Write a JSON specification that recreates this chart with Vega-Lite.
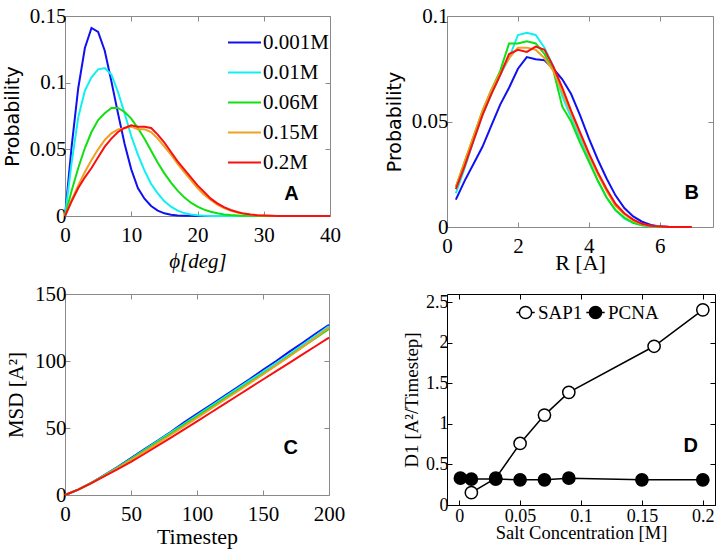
{
"$schema": "https://vega.github.io/schema/vega-lite/v6.json",
"autosize": "none",
"padding": {"left": 65, "top": 16, "right": 653, "bottom": 539},
"background": "white",
"columns": 2,
"spacing": {"row": 67, "column": 117},
"bounds": "flush",
"align": "each",
"datasets": {
"phi": [
{"c":"0.001M","x":0,"y":0},{"c":"0.001M","x":1,"y":0.052},{"c":"0.001M","x":2,"y":0.096},{"c":"0.001M","x":3,"y":0.126},{"c":"0.001M","x":4,"y":0.141},{"c":"0.001M","x":5,"y":0.138},{"c":"0.001M","x":6,"y":0.124},{"c":"0.001M","x":7,"y":0.101},{"c":"0.001M","x":8,"y":0.077},{"c":"0.001M","x":9,"y":0.054},{"c":"0.001M","x":10,"y":0.035},{"c":"0.001M","x":11,"y":0.021},{"c":"0.001M","x":12,"y":0.013},{"c":"0.001M","x":13,"y":0.0075},{"c":"0.001M","x":14,"y":0.004},{"c":"0.001M","x":15,"y":0.002},{"c":"0.001M","x":16,"y":0.0009},{"c":"0.001M","x":17,"y":0.0004},{"c":"0.001M","x":18,"y":0.0002},{"c":"0.001M","x":19,"y":0.0001},{"c":"0.001M","x":20,"y":0},{"c":"0.001M","x":40,"y":0},
{"c":"0.01M","x":0,"y":0},{"c":"0.01M","x":1,"y":0.04},{"c":"0.01M","x":2,"y":0.074},{"c":"0.01M","x":3,"y":0.094},{"c":"0.01M","x":4,"y":0.104},{"c":"0.01M","x":5,"y":0.11},{"c":"0.01M","x":6,"y":0.111},{"c":"0.01M","x":7,"y":0.106},{"c":"0.01M","x":8,"y":0.093},{"c":"0.01M","x":9,"y":0.077},{"c":"0.01M","x":10,"y":0.06},{"c":"0.01M","x":11,"y":0.046},{"c":"0.01M","x":12,"y":0.034},{"c":"0.01M","x":13,"y":0.024},{"c":"0.01M","x":14,"y":0.017},{"c":"0.01M","x":15,"y":0.011},{"c":"0.01M","x":16,"y":0.007},{"c":"0.01M","x":17,"y":0.004},{"c":"0.01M","x":18,"y":0.0022},{"c":"0.01M","x":19,"y":0.0011},{"c":"0.01M","x":20,"y":0.0005},{"c":"0.01M","x":21,"y":0.0002},{"c":"0.01M","x":22,"y":0},{"c":"0.01M","x":40,"y":0},
{"c":"0.06M","x":0,"y":0},{"c":"0.06M","x":1,"y":0.019},{"c":"0.06M","x":2,"y":0.036},{"c":"0.06M","x":3,"y":0.051},{"c":"0.06M","x":4,"y":0.063},{"c":"0.06M","x":5,"y":0.072},{"c":"0.06M","x":6,"y":0.077},{"c":"0.06M","x":7,"y":0.081},{"c":"0.06M","x":8,"y":0.081},{"c":"0.06M","x":9,"y":0.078},{"c":"0.06M","x":10,"y":0.073},{"c":"0.06M","x":11,"y":0.066},{"c":"0.06M","x":12,"y":0.058},{"c":"0.06M","x":13,"y":0.049},{"c":"0.06M","x":14,"y":0.04},{"c":"0.06M","x":15,"y":0.032},{"c":"0.06M","x":16,"y":0.025},{"c":"0.06M","x":17,"y":0.019},{"c":"0.06M","x":18,"y":0.014},{"c":"0.06M","x":19,"y":0.01},{"c":"0.06M","x":20,"y":0.007},{"c":"0.06M","x":21,"y":0.0048},{"c":"0.06M","x":22,"y":0.0032},{"c":"0.06M","x":23,"y":0.002},{"c":"0.06M","x":24,"y":0.0012},{"c":"0.06M","x":25,"y":0.0007},{"c":"0.06M","x":26,"y":0.0004},{"c":"0.06M","x":27,"y":0.0002},{"c":"0.06M","x":28,"y":0.0001},{"c":"0.06M","x":29,"y":0},{"c":"0.06M","x":40,"y":0},
{"c":"0.15M","x":0,"y":0},{"c":"0.15M","x":1,"y":0.012},{"c":"0.15M","x":2,"y":0.023},{"c":"0.15M","x":3,"y":0.033},{"c":"0.15M","x":4,"y":0.042},{"c":"0.15M","x":5,"y":0.05},{"c":"0.15M","x":6,"y":0.057},{"c":"0.15M","x":7,"y":0.062},{"c":"0.15M","x":8,"y":0.065},{"c":"0.15M","x":9,"y":0.066},{"c":"0.15M","x":10,"y":0.067},{"c":"0.15M","x":11,"y":0.065},{"c":"0.15M","x":12,"y":0.065},{"c":"0.15M","x":13,"y":0.063},{"c":"0.15M","x":14,"y":0.058},{"c":"0.15M","x":15,"y":0.052},{"c":"0.15M","x":16,"y":0.046},{"c":"0.15M","x":17,"y":0.039},{"c":"0.15M","x":18,"y":0.033},{"c":"0.15M","x":19,"y":0.027},{"c":"0.15M","x":20,"y":0.021},{"c":"0.15M","x":21,"y":0.016},{"c":"0.15M","x":22,"y":0.012},{"c":"0.15M","x":23,"y":0.0085},{"c":"0.15M","x":24,"y":0.006},{"c":"0.15M","x":25,"y":0.004},{"c":"0.15M","x":26,"y":0.0026},{"c":"0.15M","x":27,"y":0.0016},{"c":"0.15M","x":28,"y":0.0009},{"c":"0.15M","x":29,"y":0.0005},{"c":"0.15M","x":30,"y":0.0003},{"c":"0.15M","x":31,"y":0.0001},{"c":"0.15M","x":32,"y":0},{"c":"0.15M","x":40,"y":0},
{"c":"0.2M","x":0,"y":0},{"c":"0.2M","x":1,"y":0.011},{"c":"0.2M","x":2,"y":0.021},{"c":"0.2M","x":3,"y":0.029},{"c":"0.2M","x":4,"y":0.036},{"c":"0.2M","x":5,"y":0.044},{"c":"0.2M","x":6,"y":0.052},{"c":"0.2M","x":7,"y":0.058},{"c":"0.2M","x":8,"y":0.063},{"c":"0.2M","x":9,"y":0.066},{"c":"0.2M","x":10,"y":0.068},{"c":"0.2M","x":11,"y":0.067},{"c":"0.2M","x":12,"y":0.067},{"c":"0.2M","x":13,"y":0.066},{"c":"0.2M","x":14,"y":0.061},{"c":"0.2M","x":15,"y":0.055},{"c":"0.2M","x":16,"y":0.048},{"c":"0.2M","x":17,"y":0.041},{"c":"0.2M","x":18,"y":0.035},{"c":"0.2M","x":19,"y":0.029},{"c":"0.2M","x":20,"y":0.023},{"c":"0.2M","x":21,"y":0.018},{"c":"0.2M","x":22,"y":0.013},{"c":"0.2M","x":23,"y":0.0095},{"c":"0.2M","x":24,"y":0.0066},{"c":"0.2M","x":25,"y":0.0045},{"c":"0.2M","x":26,"y":0.003},{"c":"0.2M","x":27,"y":0.0018},{"c":"0.2M","x":28,"y":0.0011},{"c":"0.2M","x":29,"y":0.0006},{"c":"0.2M","x":30,"y":0.0003},{"c":"0.2M","x":31,"y":0.0001},{"c":"0.2M","x":32,"y":0},{"c":"0.2M","x":40,"y":0}
],
"rad": [
{"c":"0.001M","x":0.25,"y":0.013},{"c":"0.001M","x":0.5,"y":0.022},{"c":"0.001M","x":0.75,"y":0.03},{"c":"0.001M","x":1,"y":0.038},{"c":"0.001M","x":1.25,"y":0.048},{"c":"0.001M","x":1.5,"y":0.058},{"c":"0.001M","x":1.75,"y":0.066},{"c":"0.001M","x":2,"y":0.075},{"c":"0.001M","x":2.25,"y":0.0805},{"c":"0.001M","x":2.5,"y":0.0795},{"c":"0.001M","x":2.75,"y":0.079},{"c":"0.001M","x":3,"y":0.075},{"c":"0.001M","x":3.25,"y":0.07},{"c":"0.001M","x":3.5,"y":0.063},{"c":"0.001M","x":3.75,"y":0.053},{"c":"0.001M","x":4,"y":0.042},{"c":"0.001M","x":4.25,"y":0.032},{"c":"0.001M","x":4.5,"y":0.023},{"c":"0.001M","x":4.75,"y":0.015},{"c":"0.001M","x":5,"y":0.009},{"c":"0.001M","x":5.25,"y":0.005},{"c":"0.001M","x":5.5,"y":0.0025},{"c":"0.001M","x":5.75,"y":0.001},{"c":"0.001M","x":6,"y":0.0003},{"c":"0.001M","x":6.25,"y":0.0001},{"c":"0.001M","x":6.9,"y":0},
{"c":"0.01M","x":0.25,"y":0.016},{"c":"0.01M","x":0.5,"y":0.028},{"c":"0.01M","x":0.75,"y":0.041},{"c":"0.01M","x":1,"y":0.053},{"c":"0.01M","x":1.25,"y":0.063},{"c":"0.01M","x":1.5,"y":0.072},{"c":"0.01M","x":1.75,"y":0.08},{"c":"0.01M","x":2,"y":0.091},{"c":"0.01M","x":2.25,"y":0.092},{"c":"0.01M","x":2.5,"y":0.091},{"c":"0.01M","x":2.75,"y":0.085},{"c":"0.01M","x":3,"y":0.076},{"c":"0.01M","x":3.25,"y":0.062},{"c":"0.01M","x":3.5,"y":0.052},{"c":"0.01M","x":3.75,"y":0.042},{"c":"0.01M","x":4,"y":0.032},{"c":"0.01M","x":4.25,"y":0.022},{"c":"0.01M","x":4.5,"y":0.014},{"c":"0.01M","x":4.75,"y":0.008},{"c":"0.01M","x":5,"y":0.004},{"c":"0.01M","x":5.25,"y":0.002},{"c":"0.01M","x":5.5,"y":0.0008},{"c":"0.01M","x":5.75,"y":0.0003},{"c":"0.01M","x":6,"y":0.0001},{"c":"0.01M","x":6.25,"y":0},{"c":"0.01M","x":6.9,"y":0},
{"c":"0.06M","x":0.25,"y":0.019},{"c":"0.06M","x":0.5,"y":0.031},{"c":"0.06M","x":0.75,"y":0.043},{"c":"0.06M","x":1,"y":0.055},{"c":"0.06M","x":1.25,"y":0.065},{"c":"0.06M","x":1.5,"y":0.074},{"c":"0.06M","x":1.75,"y":0.087},{"c":"0.06M","x":2,"y":0.087},{"c":"0.06M","x":2.25,"y":0.088},{"c":"0.06M","x":2.5,"y":0.087},{"c":"0.06M","x":2.75,"y":0.082},{"c":"0.06M","x":3,"y":0.074},{"c":"0.06M","x":3.25,"y":0.057},{"c":"0.06M","x":3.5,"y":0.05},{"c":"0.06M","x":3.75,"y":0.04},{"c":"0.06M","x":4,"y":0.031},{"c":"0.06M","x":4.25,"y":0.022},{"c":"0.06M","x":4.5,"y":0.014},{"c":"0.06M","x":4.75,"y":0.008},{"c":"0.06M","x":5,"y":0.0045},{"c":"0.06M","x":5.25,"y":0.002},{"c":"0.06M","x":5.5,"y":0.0008},{"c":"0.06M","x":5.75,"y":0.0003},{"c":"0.06M","x":6,"y":0.0001},{"c":"0.06M","x":6.25,"y":0},{"c":"0.06M","x":6.9,"y":0},
{"c":"0.15M","x":0.25,"y":0.019},{"c":"0.15M","x":0.5,"y":0.031},{"c":"0.15M","x":0.75,"y":0.043},{"c":"0.15M","x":1,"y":0.055},{"c":"0.15M","x":1.25,"y":0.065},{"c":"0.15M","x":1.5,"y":0.073},{"c":"0.15M","x":1.75,"y":0.08},{"c":"0.15M","x":2,"y":0.085},{"c":"0.15M","x":2.25,"y":0.085},{"c":"0.15M","x":2.5,"y":0.084},{"c":"0.15M","x":2.75,"y":0.08},{"c":"0.15M","x":3,"y":0.074},{"c":"0.15M","x":3.25,"y":0.064},{"c":"0.15M","x":3.5,"y":0.054},{"c":"0.15M","x":3.75,"y":0.044},{"c":"0.15M","x":4,"y":0.034},{"c":"0.15M","x":4.25,"y":0.025},{"c":"0.15M","x":4.5,"y":0.017},{"c":"0.15M","x":4.75,"y":0.01},{"c":"0.15M","x":5,"y":0.006},{"c":"0.15M","x":5.25,"y":0.003},{"c":"0.15M","x":5.5,"y":0.0013},{"c":"0.15M","x":5.75,"y":0.0005},{"c":"0.15M","x":6,"y":0.0002},{"c":"0.15M","x":6.25,"y":0},{"c":"0.15M","x":6.9,"y":0},
{"c":"0.2M","x":0.25,"y":0.018},{"c":"0.2M","x":0.5,"y":0.029},{"c":"0.2M","x":0.75,"y":0.041},{"c":"0.2M","x":1,"y":0.053},{"c":"0.2M","x":1.25,"y":0.063},{"c":"0.2M","x":1.5,"y":0.072},{"c":"0.2M","x":1.75,"y":0.082},{"c":"0.2M","x":2,"y":0.084},{"c":"0.2M","x":2.25,"y":0.083},{"c":"0.2M","x":2.5,"y":0.0855},{"c":"0.2M","x":2.75,"y":0.084},{"c":"0.2M","x":3,"y":0.076},{"c":"0.2M","x":3.25,"y":0.066},{"c":"0.2M","x":3.5,"y":0.055},{"c":"0.2M","x":3.75,"y":0.045},{"c":"0.2M","x":4,"y":0.035},{"c":"0.2M","x":4.25,"y":0.026},{"c":"0.2M","x":4.5,"y":0.018},{"c":"0.2M","x":4.75,"y":0.011},{"c":"0.2M","x":5,"y":0.0065},{"c":"0.2M","x":5.25,"y":0.0035},{"c":"0.2M","x":5.5,"y":0.0015},{"c":"0.2M","x":5.75,"y":0.0006},{"c":"0.2M","x":6,"y":0.0002},{"c":"0.2M","x":6.25,"y":0},{"c":"0.2M","x":6.9,"y":0}
],
"msd": [
{"c":"0.001M","t":0,"m":0},{"c":"0.001M","t":10,"m":4},{"c":"0.001M","t":20,"m":9},{"c":"0.001M","t":30,"m":15},{"c":"0.001M","t":40,"m":21},{"c":"0.001M","t":50,"m":27.5},{"c":"0.001M","t":60,"m":34},{"c":"0.001M","t":70,"m":40.5},{"c":"0.001M","t":80,"m":47},{"c":"0.001M","t":90,"m":54},{"c":"0.001M","t":100,"m":60.5},{"c":"0.001M","t":110,"m":67},{"c":"0.001M","t":120,"m":73.5},{"c":"0.001M","t":130,"m":80},{"c":"0.001M","t":140,"m":86.5},{"c":"0.001M","t":150,"m":93.5},{"c":"0.001M","t":160,"m":100},{"c":"0.001M","t":170,"m":107},{"c":"0.001M","t":180,"m":113.5},{"c":"0.001M","t":190,"m":120.5},{"c":"0.001M","t":200,"m":127},
{"c":"0.01M","t":0,"m":0},{"c":"0.01M","t":10,"m":4},{"c":"0.01M","t":20,"m":9},{"c":"0.01M","t":30,"m":14.8},{"c":"0.01M","t":40,"m":20.7},{"c":"0.01M","t":50,"m":27},{"c":"0.01M","t":60,"m":33.5},{"c":"0.01M","t":70,"m":40},{"c":"0.01M","t":80,"m":46.5},{"c":"0.01M","t":90,"m":53},{"c":"0.01M","t":100,"m":59.5},{"c":"0.01M","t":110,"m":66},{"c":"0.01M","t":120,"m":72.5},{"c":"0.01M","t":130,"m":79},{"c":"0.01M","t":140,"m":85.5},{"c":"0.01M","t":150,"m":92},{"c":"0.01M","t":160,"m":98.5},{"c":"0.01M","t":170,"m":105},{"c":"0.01M","t":180,"m":112},{"c":"0.01M","t":190,"m":119},{"c":"0.01M","t":200,"m":126},
{"c":"0.06M","t":0,"m":0},{"c":"0.06M","t":10,"m":4},{"c":"0.06M","t":20,"m":9},{"c":"0.06M","t":30,"m":14.7},{"c":"0.06M","t":40,"m":20.5},{"c":"0.06M","t":50,"m":26.6},{"c":"0.06M","t":60,"m":33},{"c":"0.06M","t":70,"m":39.3},{"c":"0.06M","t":80,"m":45.7},{"c":"0.06M","t":90,"m":52.2},{"c":"0.06M","t":100,"m":58.6},{"c":"0.06M","t":110,"m":65},{"c":"0.06M","t":120,"m":71.4},{"c":"0.06M","t":130,"m":77.8},{"c":"0.06M","t":140,"m":84.2},{"c":"0.06M","t":150,"m":90.6},{"c":"0.06M","t":160,"m":97},{"c":"0.06M","t":170,"m":103.8},{"c":"0.06M","t":180,"m":110.5},{"c":"0.06M","t":190,"m":117.3},{"c":"0.06M","t":200,"m":124},
{"c":"0.15M","t":0,"m":0},{"c":"0.15M","t":10,"m":4},{"c":"0.15M","t":20,"m":8.9},{"c":"0.15M","t":30,"m":14.4},{"c":"0.15M","t":40,"m":20},{"c":"0.15M","t":50,"m":26},{"c":"0.15M","t":60,"m":32.2},{"c":"0.15M","t":70,"m":38.5},{"c":"0.15M","t":80,"m":44.8},{"c":"0.15M","t":90,"m":51.2},{"c":"0.15M","t":100,"m":57.6},{"c":"0.15M","t":110,"m":64},{"c":"0.15M","t":120,"m":70.5},{"c":"0.15M","t":130,"m":77},{"c":"0.15M","t":140,"m":83.5},{"c":"0.15M","t":150,"m":90},{"c":"0.15M","t":160,"m":96.7},{"c":"0.15M","t":170,"m":103.4},{"c":"0.15M","t":180,"m":110.5},{"c":"0.15M","t":190,"m":117.7},{"c":"0.15M","t":200,"m":125},
{"c":"0.2M","t":0,"m":0},{"c":"0.2M","t":10,"m":4},{"c":"0.2M","t":20,"m":8.8},{"c":"0.2M","t":30,"m":14},{"c":"0.2M","t":40,"m":19.3},{"c":"0.2M","t":50,"m":24.8},{"c":"0.2M","t":60,"m":30.6},{"c":"0.2M","t":70,"m":36.6},{"c":"0.2M","t":80,"m":42.7},{"c":"0.2M","t":90,"m":48.8},{"c":"0.2M","t":100,"m":55},{"c":"0.2M","t":110,"m":61.2},{"c":"0.2M","t":120,"m":67.4},{"c":"0.2M","t":130,"m":73.7},{"c":"0.2M","t":140,"m":80},{"c":"0.2M","t":150,"m":86.2},{"c":"0.2M","t":160,"m":92.4},{"c":"0.2M","t":170,"m":98.6},{"c":"0.2M","t":180,"m":104.9},{"c":"0.2M","t":190,"m":111.2},{"c":"0.2M","t":200,"m":117.5}
],
"d1": [
{"s":"SAP1","x":0.01,"y":0.152},{"s":"SAP1","x":0.03,"y":0.33},{"s":"SAP1","x":0.05,"y":0.758},{"s":"SAP1","x":0.07,"y":1.108},{"s":"SAP1","x":0.09,"y":1.388},{"s":"SAP1","x":0.16,"y":1.956},{"s":"SAP1","x":0.2,"y":2.405},
{"s":"PCNA","x":0.001,"y":0.33},{"s":"PCNA","x":0.01,"y":0.32},{"s":"PCNA","x":0.03,"y":0.32},{"s":"PCNA","x":0.05,"y":0.31},{"s":"PCNA","x":0.07,"y":0.31},{"s":"PCNA","x":0.09,"y":0.33},{"s":"PCNA","x":0.15,"y":0.31},{"s":"PCNA","x":0.2,"y":0.31}
]
},
"concat": [
{
"width": 265, "height": 200,
"layer": [
{"data": {"name": "phi"},
"mark": {"type": "line", "strokeWidth": 2},
"encoding": {
"x": {"field": "x", "type": "quantitative", "scale": {"domain": [0, 40], "nice": false}, "axis": {"values": [0, 10, 20, 30, 40], "title": "ϕ[deg]", "titleFontStyle": "italic", "titlePadding": 5}},
"y": {"field": "y", "type": "quantitative", "scale": {"domain": [0, 0.15], "nice": false}, "axis": {"values": [0, 0.05, 0.1, 0.15], "labelExpr": "datum.value == 0 ? '0' : datum.value == 0.05 ? '0.05' : datum.value == 0.1 ? '0.1' : '0.15'", "title": "Probability", "titleFont": "DejaVu Sans", "titleFontSize": 19, "titlePadding": 7}},
"color": {"field": "c", "type": "nominal", "sort": null,
"scale": {"domain": ["0.001M", "0.01M", "0.06M", "0.15M", "0.2M"], "range": ["#1010f0", "#10f0f0", "#10e010", "#f0a020", "#f81010"]},
"legend": {"orient": "none", "legendX": 162, "legendY": 9, "title": null, "symbolType": "stroke", "symbolSize": 1089, "symbolStrokeWidth": 2, "labelFont": "Liberation Serif", "labelFontSize": 21, "labelColor": "black", "rowPadding": 2, "labelOffset": 1, "padding": 0}}
}},
{"data": {"values": [{"t": "A"}]},
"mark": {"type": "text", "font": "Liberation Sans", "fontWeight": "bold", "fontSize": 20},
"encoding": {
"x": {"datum": 34.2, "type": "quantitative", "scale": {"domain": [0, 40], "nice": false}, "axis": {"orient": "top", "values": [0, 10, 20, 30, 40], "labels": false, "title": null}},
"y": {"datum": 0.0165, "type": "quantitative", "scale": {"domain": [0, 0.15], "nice": false}, "axis": {"orient": "right", "values": [0, 0.05, 0.1, 0.15], "labels": false, "title": null}},
"text": {"field": "t"}
}}
],
"resolve": {"axis": {"x": "independent", "y": "independent"}}
},
{
"width": 266, "height": 211,
"layer": [
{"data": {"name": "rad"},
"mark": {"type": "line", "strokeWidth": 2},
"encoding": {
"x": {"field": "x", "type": "quantitative", "scale": {"domain": [0, 7.5], "nice": false}, "axis": {"values": [0, 2, 4, 6], "title": "R [A]", "titleFontSize": 22, "titlePadding": -4}},
"y": {"field": "y", "type": "quantitative", "scale": {"domain": [0, 0.1], "nice": false}, "axis": {"values": [0, 0.05, 0.1], "format": "~g", "title": "Probability", "titleFont": "DejaVu Sans", "titleFontSize": 19, "titlePadding": 7}},
"color": {"field": "c", "type": "nominal", "sort": null,
"scale": {"domain": ["0.001M", "0.01M", "0.06M", "0.15M", "0.2M"], "range": ["#1010f0", "#10f0f0", "#10e010", "#f0a020", "#f81010"]},
"legend": null}
}},
{"data": {"values": [{"t": "B"}]},
"mark": {"type": "text", "font": "Liberation Sans", "fontWeight": "bold", "fontSize": 20},
"encoding": {
"x": {"datum": 6.9, "type": "quantitative", "scale": {"domain": [0, 7.5], "nice": false}, "axis": {"orient": "top", "values": [0, 2, 4, 6], "labels": false, "title": null}},
"y": {"datum": 0.016, "type": "quantitative", "scale": {"domain": [0, 0.1], "nice": false}, "axis": {"orient": "right", "values": [0, 0.05, 0.1], "labels": false, "title": null}},
"text": {"field": "t"}
}}
],
"resolve": {"axis": {"x": "independent", "y": "independent"}}
},
{
"width": 264, "height": 201,
"layer": [
{"data": {"name": "msd"},
"mark": {"type": "line", "strokeWidth": 2},
"encoding": {
"x": {"field": "t", "type": "quantitative", "scale": {"domain": [0, 200], "nice": false}, "axis": {"values": [0, 50, 100, 150, 200], "title": "Timestep", "titleFontSize": 22, "titlePadding": 2}},
"y": {"field": "m", "type": "quantitative", "scale": {"domain": [0, 150], "nice": false}, "axis": {"values": [0, 50, 100, 150], "title": "MSD [A²]", "titlePadding": 8}},
"color": {"field": "c", "type": "nominal", "sort": null,
"scale": {"domain": ["0.001M", "0.01M", "0.06M", "0.15M", "0.2M"], "range": ["#1010f0", "#10f0f0", "#10e010", "#f0a020", "#f81010"]},
"legend": null}
}},
{"data": {"values": [{"t": "C"}]},
"mark": {"type": "text", "font": "Liberation Sans", "fontWeight": "bold", "fontSize": 20},
"encoding": {
"x": {"datum": 171, "type": "quantitative", "scale": {"domain": [0, 200], "nice": false}, "axis": {"orient": "top", "values": [0, 50, 100, 150, 200], "labels": false, "title": null}},
"y": {"datum": 35, "type": "quantitative", "scale": {"domain": [0, 150], "nice": false}, "axis": {"orient": "right", "values": [0, 50, 100, 150], "labels": false, "title": null}},
"text": {"field": "t"}
}}
],
"resolve": {"axis": {"x": "independent", "y": "independent"}}
},
{
"width": 268, "height": 211,
"view": {"stroke": "black"},
"layer": [
{"data": {"name": "d1"},
"mark": {"type": "line", "color": "black", "strokeWidth": 1.5},
"encoding": {
"x": {"field": "x", "type": "quantitative", "scale": {"domain": [-0.01, 0.21], "nice": false, "zero": false}, "axis": {"values": [0, 0.05, 0.1, 0.15, 0.2], "format": "~g", "title": "Salt Concentration [M]", "tickColor": "black", "labelFontSize": 18, "titleFontSize": 18.5, "labelPadding": 7, "titlePadding": -2}},
"y": {"field": "y", "type": "quantitative", "scale": {"domain": [0, 2.6], "nice": false}, "axis": {"values": [0, 0.5, 1, 1.5, 2, 2.5], "format": "~g", "title": "D1 [A²/Timestep]", "tickColor": "black", "labelFontSize": 18, "titleFontSize": 19, "titlePadding": 4}},
"detail": {"field": "s"}
}},
{"data": {"name": "d1"},
"mark": {"type": "point", "shape": "circle", "filled": true, "size": 150, "stroke": "black", "strokeWidth": 1.5, "opacity": 1},
"encoding": {
"x": {"field": "x", "type": "quantitative", "scale": {"domain": [-0.01, 0.21], "nice": false, "zero": false}, "axis": {"orient": "top", "values": [0, 0.05, 0.1, 0.15, 0.2], "labels": false, "title": null, "tickColor": "black"}},
"y": {"field": "y", "type": "quantitative", "scale": {"domain": [0, 2.6], "nice": false}, "axis": {"orient": "right", "values": [0, 0.5, 1, 1.5, 2, 2.5], "labels": false, "title": null, "tickColor": "black"}},
"fill": {"field": "s", "type": "nominal", "sort": null, "scale": {"domain": ["SAP1", "PCNA"], "range": ["white", "black"]},
"legend": {"orient": "none", "legendX": 451, "legendY": 287, "direction": "horizontal", "title": null, "symbolType": "M-1.5,0L-1,0M1,0L1.5,0M1,0A1,1,0,1,1,-1,0A1,1,0,1,1,1,0Z", "symbolSize": 150, "symbolStrokeColor": "black", "symbolStrokeWidth": 1.5, "labelFont": "Liberation Serif", "labelFontSize": 19, "labelColor": "black", "labelOffset": 3, "columnPadding": 0, "gridAlign": "none", "padding": 0}}
}},
{"data": {"values": [{"t": "D"}]},
"mark": {"type": "text", "font": "Liberation Sans", "fontWeight": "bold", "fontSize": 20},
"encoding": {
"x": {"datum": 0.19, "type": "quantitative", "scale": {"domain": [-0.01, 0.21], "nice": false, "zero": false}, "axis": null},
"y": {"datum": 0.726, "type": "quantitative", "scale": {"domain": [0, 2.6], "nice": false}, "axis": null},
"text": {"field": "t"}
}}
],
"resolve": {"axis": {"x": "independent", "y": "independent"}}
}
],
"config": {
"view": {"stroke": "#8a8a8a", "strokeWidth": 1},
"axis": {"domain": false, "grid": false, "tickColor": "#8a8a8a", "tickSize": -5, "labelFont": "Liberation Serif", "labelFontSize": 21, "labelColor": "black", "titleFont": "Liberation Serif", "titleFontSize": 21, "titleFontWeight": "normal", "titleColor": "black", "labelFlush": false, "labelOverlap": false},
"axisX": {"labelPadding": 13},
"axisY": {"labelPadding": 4},
"text": {"color": "black"}
}
}
